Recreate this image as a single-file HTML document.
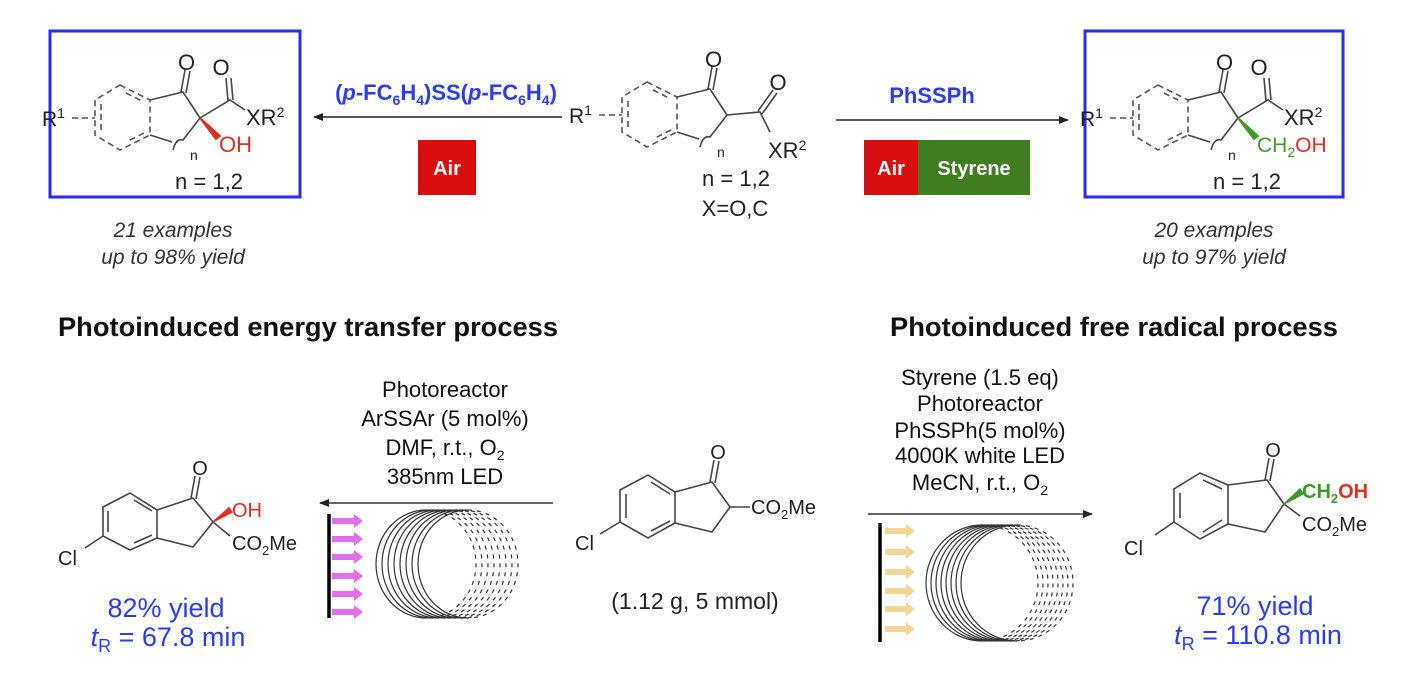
<!DOCTYPE html>
<html><head><meta charset="utf-8"><style>
html,body{margin:0;padding:0;background:#fff;}
svg{display:block;font-family:"Liberation Sans",Arial,sans-serif;}
</style></head><body>
<svg width="1408" height="676" viewBox="0 0 1408 676" xmlns="http://www.w3.org/2000/svg">
<defs>
<marker id="ah" markerWidth="10" markerHeight="8" refX="9" refY="4" orient="auto" markerUnits="userSpaceOnUse"><path d="M0,0 L10,4 L0,8 Z" fill="#222"/></marker>
<g id="hex">
  <g stroke="#555" stroke-width="1.6" fill="none" stroke-dasharray="6,4">
    <path d="M120,85 L150,100 L150,135 L120,150 L95,135 L95,100 Z"/>
    <path d="M126,93 L144,102 M144,133 L126,142 M101,104 L101,131"/>
    <path d="M72,118 L95,118"/>
  </g>
  <g stroke="#444" stroke-width="1.6" fill="none">
    <path d="M150,100 L183,92 L200,118 M150,135 L172,142"/>
    <path d="M181,92 L185,70 M186,93 L190,71"/>
    <path d="M173,150 Q176,138 183,140 L200,118"/>
  </g>
  <text x="42" y="126" font-size="21" fill="#222">R<tspan font-size="14" dy="-8">1</tspan></text>
  <text x="178" y="70" font-size="22" fill="#222">O</text>
  <text x="190" y="160" font-size="14" fill="#222">n</text>
  <text x="209" y="189" font-size="22" fill="#222" text-anchor="middle">n = 1,2</text>
</g>
</defs>

<!-- left box -->
<rect x="50" y="31" width="250" height="166" fill="none" stroke="#2b2bf0" stroke-width="3"/>
<use href="#hex"/>
<g stroke="#444" stroke-width="1.6" fill="none"><path d="M200,118 L230,100 L245,110 M228,101 L226,78 M233,100 L231,78"/></g>
<path d="M200,118 L220,136 L216,139 Z" fill="#e0301e" stroke="#e0301e" stroke-width="2"/>
<text x="221" y="75" font-size="22" fill="#222" text-anchor="middle">O</text>
<text x="246" y="125" font-size="22" fill="#222">XR<tspan font-size="14" dy="-8">2</tspan></text>
<text x="219" y="152" font-size="22" fill="#e0301e">OH</text>

<!-- right box -->
<rect x="1085" y="31" width="258" height="166" fill="none" stroke="#2b2bf0" stroke-width="3"/>
<use href="#hex" transform="translate(1038,0)"/>
<g stroke="#444" stroke-width="1.6" fill="none"><path d="M1238,118 L1268,100 L1283,110 M1266,101 L1264,78 M1271,100 L1269,78"/></g>
<path d="M1238,118 L1258,136 L1254,139 Z" fill="#3f9a2a" stroke="#3f9a2a" stroke-width="2"/>
<text x="1259" y="75" font-size="22" fill="#222" text-anchor="middle">O</text>
<text x="1284" y="125" font-size="22" fill="#222">XR<tspan font-size="14" dy="-8">2</tspan></text>
<text x="1257" y="152" font-size="21" fill="#3f9a2a">CH<tspan font-size="14" dy="5">2</tspan><tspan dy="-5" fill="#e0301e">OH</tspan></text>

<!-- middle SM -->
<use href="#hex" transform="translate(527,-3)"/>
<g stroke="#444" stroke-width="1.6" fill="none"><path d="M727,115 L760,112 L770,132 M758,111 L773,90 M762,114 L777,93"/></g>
<text x="778" y="90" font-size="22" fill="#222" text-anchor="middle">O</text>
<text x="768" y="158" font-size="22" fill="#222">XR<tspan font-size="14" dy="-8">2</tspan></text>
<text x="735" y="216" font-size="22" fill="#222" text-anchor="middle">X=O,C</text>

<!-- top arrows -->
<line x1="562" y1="117" x2="314" y2="117" stroke="#222" stroke-width="1.5" marker-end="url(#ah)"/>
<text x="446" y="100" font-size="22" font-weight="bold" fill="#2b3cf0" text-anchor="middle">(<tspan font-style="italic">p</tspan>-FC<tspan font-size="14" dy="5">6</tspan><tspan dy="-5">H</tspan><tspan font-size="14" dy="5">4</tspan><tspan dy="-5">)SS(</tspan><tspan font-style="italic">p</tspan>-FC<tspan font-size="14" dy="5">6</tspan><tspan dy="-5">H</tspan><tspan font-size="14" dy="5">4</tspan><tspan dy="-5">)</tspan></text>
<rect x="418" y="140" width="58" height="55" fill="#d90f0f"/>
<text x="447" y="175" font-size="20" font-weight="bold" fill="#fff" text-anchor="middle">Air</text>

<line x1="836" y1="120" x2="1068" y2="120" stroke="#222" stroke-width="1.5" marker-end="url(#ah)"/>
<text x="932" y="103" font-size="22" font-weight="bold" fill="#2b3cf0" text-anchor="middle">PhSSPh</text>
<rect x="864" y="140" width="54" height="55" fill="#d90f0f"/>
<rect x="918" y="140" width="112" height="55" fill="#3f7d21"/>
<text x="891" y="175" font-size="20" font-weight="bold" fill="#fff" text-anchor="middle">Air</text>
<text x="974" y="175" font-size="20" font-weight="bold" fill="#fff" text-anchor="middle">Styrene</text>

<g font-size="21" font-style="italic" fill="#333" text-anchor="middle">
<text x="173" y="237">21 examples</text><text x="173" y="264">up to 98% yield</text>
<text x="1214" y="237">20 examples</text><text x="1214" y="264">up to 97% yield</text>
</g>

<g font-size="27" font-weight="bold" fill="#111">
<text x="58" y="336" textLength="500" lengthAdjust="spacingAndGlyphs">Photoinduced energy transfer process</text>
<text x="890" y="336" textLength="448" lengthAdjust="spacingAndGlyphs">Photoinduced free radical process</text>
</g>

<!-- bottom conditions -->
<g font-size="22" fill="#111" text-anchor="middle">
<text x="445" y="397">Photoreactor</text>
<text x="445" y="426">ArSSAr (5 mol%)</text>
<text x="445" y="455">DMF, r.t., O<tspan font-size="14" dy="5">2</tspan></text>
<text x="445" y="484">385nm LED</text>
<text x="980" y="385">Styrene (1.5 eq)</text>
<text x="980" y="411">Photoreactor</text>
<text x="980" y="438">PhSSPh(5 mol%)</text>
<text x="980" y="463">4000K white LED</text>
<text x="980" y="490">MeCN, r.t., O<tspan font-size="14" dy="5">2</tspan></text>
</g>
<line x1="553" y1="503" x2="320" y2="503" stroke="#333" stroke-width="1.5" marker-end="url(#ah)"/>
<line x1="868" y1="514" x2="1092" y2="514" stroke="#333" stroke-width="1.5" marker-end="url(#ah)"/>

<!-- left coil -->
<line x1="329" y1="514" x2="329" y2="618" stroke="#000" stroke-width="3.5"/>
<g fill="#e070e8">
<path d="M332,518 h22 v-4 l9,7 l-9,7 v-4 h-22 Z"/>
<path d="M332,536 h22 v-4 l9,7 l-9,7 v-4 h-22 Z"/>
<path d="M332,554 h22 v-4 l9,7 l-9,7 v-4 h-22 Z"/>
<path d="M332,573 h22 v-4 l9,7 l-9,7 v-4 h-22 Z"/>
<path d="M332,591 h22 v-4 l9,7 l-9,7 v-4 h-22 Z"/>
<path d="M332,609 h22 v-4 l9,7 l-9,7 v-4 h-22 Z"/>
</g>
<g fill="none" stroke="#333" stroke-width="1.2">
<path d="M426,510 A50,54 0 0 0 426,618 M432,510 A50,54 0 0 0 432,618 M438,510 A50,54 0 0 0 438,618 M444,510 A50,54 0 0 0 444,618 M450,510 A50,54 0 0 0 450,618 M456,510 A50,54 0 0 0 456,618 M462,510 A50,54 0 0 0 462,618 M468,510 A50,54 0 0 0 468,618"/>
<path stroke-dasharray="4,5" d="M426,510 A50,54 0 0 1 426,618 M432,510 A50,54 0 0 1 432,618 M438,510 A50,54 0 0 1 438,618 M444,510 A50,54 0 0 1 444,618 M450,510 A50,54 0 0 1 450,618 M456,510 A50,54 0 0 1 456,618 M462,510 A50,54 0 0 1 462,618 M468,510 A50,54 0 0 1 468,618"/>
</g>

<!-- right coil -->
<line x1="880" y1="523" x2="880" y2="642" stroke="#000" stroke-width="3.5"/>
<g fill="#f2d595">
<path d="M885,528 h21 v-4 l9,7 l-9,7 v-4 h-21 Z"/>
<path d="M885,549 h21 v-4 l9,7 l-9,7 v-4 h-21 Z"/>
<path d="M885,569 h21 v-4 l9,7 l-9,7 v-4 h-21 Z"/>
<path d="M885,588 h21 v-4 l9,7 l-9,7 v-4 h-21 Z"/>
<path d="M885,606 h21 v-4 l9,7 l-9,7 v-4 h-21 Z"/>
<path d="M885,626 h21 v-4 l9,7 l-9,7 v-4 h-21 Z"/>
</g>
<g fill="none" stroke="#333" stroke-width="1.2">
<path d="M982,525 A56,58 0 0 0 982,641 M987,525 A56,58 0 0 0 987,641 M992,525 A56,58 0 0 0 992,641 M997,525 A56,58 0 0 0 997,641 M1002,525 A56,58 0 0 0 1002,641 M1007,525 A56,58 0 0 0 1007,641 M1012,525 A56,58 0 0 0 1012,641 M1017,525 A56,58 0 0 0 1017,641"/>
<path stroke-dasharray="4,5" d="M982,525 A56,58 0 0 1 982,641 M987,525 A56,58 0 0 1 987,641 M992,525 A56,58 0 0 1 992,641 M997,525 A56,58 0 0 1 997,641 M1002,525 A56,58 0 0 1 1002,641 M1007,525 A56,58 0 0 1 1007,641 M1012,525 A56,58 0 0 1 1012,641 M1017,525 A56,58 0 0 1 1017,641"/>
</g>

<!-- bottom left product -->
<g stroke="#444" stroke-width="1.6" fill="none">
<path d="M157,510 L130,493 L103,507 L103,536 L130,550 L157,538 Z"/>
<path d="M134,500 L152,511 M108,511 L108,532 M134,543 L152,535"/>
<path d="M157,510 L193,498 L213,522 L193,547 L157,538"/>
<path d="M191,498 L195,476 M196,499 L200,477"/>
<path d="M103,536 L85,548 M213,522 L230,536"/>
</g>
<path d="M213,522 L229,508 L232,512 Z" fill="#e0301e" stroke="#e0301e" stroke-width="1.5"/>
<text x="200" y="475" font-size="20" fill="#222" text-anchor="middle">O</text>
<text x="58" y="565" font-size="20" fill="#222">Cl</text>
<text x="232" y="517" font-size="20" fill="#e0301e">OH</text>
<text x="232" y="550" font-size="20" fill="#222">CO<tspan font-size="13" dy="5">2</tspan><tspan dy="-5">Me</tspan></text>
<text x="166" y="617" font-size="27" fill="#2b3cf0" text-anchor="middle">82% yield</text>
<text x="168" y="646" font-size="27" fill="#2b3cf0" text-anchor="middle"><tspan font-style="italic">t</tspan><tspan font-size="18" dy="6">R</tspan><tspan dy="-6"> = 67.8 min</tspan></text>

<!-- middle bottom SM -->
<g stroke="#444" stroke-width="1.6" fill="none">
<path d="M675,492 L648,475 L620,490 L620,522 L648,538 L675,523 Z"/>
<path d="M651,482 L670,494 M626,494 L626,518 M651,531 L670,521"/>
<path d="M675,492 L712,482 L730,507 L712,532 L675,523"/>
<path d="M710,482 L714,460 M715,483 L719,461"/>
<path d="M620,522 L600,534 M730,507 L750,507"/>
</g>
<text x="718" y="459" font-size="20" fill="#222" text-anchor="middle">O</text>
<text x="575" y="550" font-size="20" fill="#222">Cl</text>
<text x="751" y="514" font-size="20" fill="#222">CO<tspan font-size="13" dy="5">2</tspan><tspan dy="-5">Me</tspan></text>
<text x="695" y="609" font-size="23" fill="#222" text-anchor="middle">(1.12 g, 5 mmol)</text>

<!-- bottom right product -->
<g stroke="#444" stroke-width="1.6" fill="none">
<path d="M1228,485 L1200,473 L1174,489 L1174,522 L1200,539 L1228,524 Z"/>
<path d="M1203,480 L1222,489 M1180,493 L1180,518 M1203,532 L1222,520"/>
<path d="M1228,485 L1267,480 L1284,504 L1265,532 L1228,524"/>
<path d="M1265,480 L1269,458 M1270,481 L1274,459"/>
<path d="M1174,522 L1155,535 M1284,504 L1300,516"/>
</g>
<path d="M1284,504 L1300,489 L1303,494 Z" fill="#3f9a2a" stroke="#3f9a2a" stroke-width="1.5"/>
<text x="1273" y="457" font-size="20" fill="#222" text-anchor="middle">O</text>
<text x="1124" y="555" font-size="20" fill="#222">Cl</text>
<text x="1302" y="498" font-size="20" font-weight="bold" fill="#3f9a2a">CH<tspan font-size="13" dy="5">2</tspan><tspan dy="-5" fill="#e0301e">OH</tspan></text>
<text x="1302" y="531" font-size="20" fill="#222">CO<tspan font-size="13" dy="5">2</tspan><tspan dy="-5">Me</tspan></text>
<text x="1255" y="615" font-size="27" fill="#2b3cf0" text-anchor="middle">71% yield</text>
<text x="1258" y="644" font-size="27" fill="#2b3cf0" text-anchor="middle"><tspan font-style="italic">t</tspan><tspan font-size="18" dy="6">R</tspan><tspan dy="-6"> = 110.8 min</tspan></text>
</svg>
</body></html>
